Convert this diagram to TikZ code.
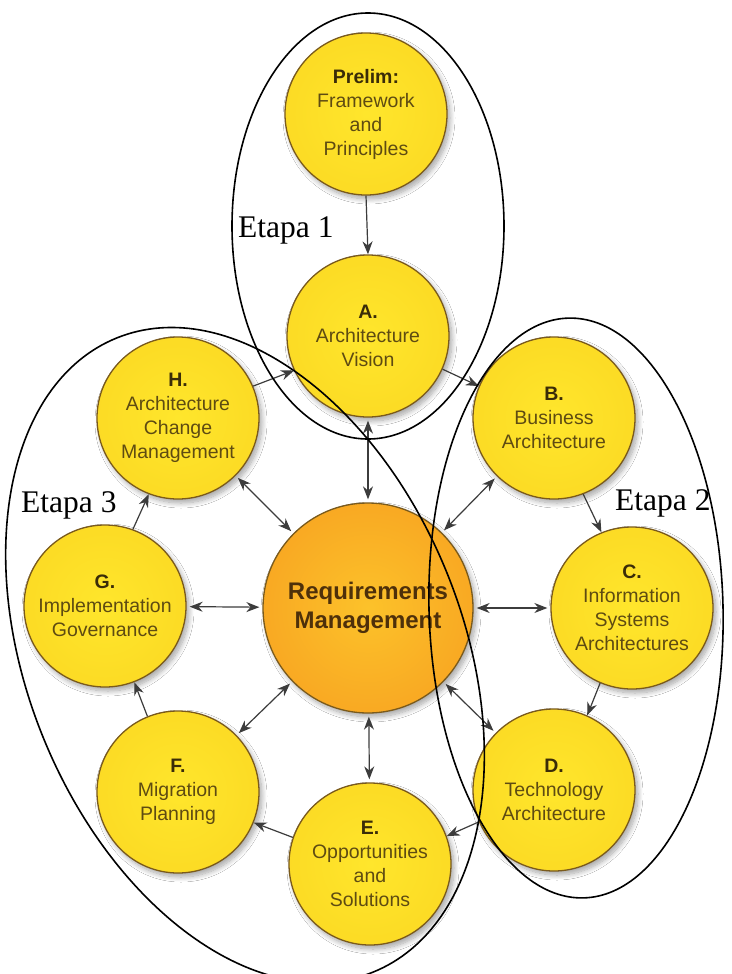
\documentclass[tikz,border=0pt]{standalone}
\usepackage{fontspec}
\setmainfont{Liberation Serif}
\newfontfamily\phasefont{Liberation Sans}
\usetikzlibrary{arrows.meta,shadows.blur}

\definecolor{ballIn}{HTML}{FFE62C}
\definecolor{ballMid}{HTML}{FBD923}
\definecolor{ballOut}{HTML}{F2BE1C}
\definecolor{ballEdge}{HTML}{7A5A1C}
\definecolor{reqIn}{HTML}{FCC22A}
\definecolor{reqMid}{HTML}{F8A622}
\definecolor{reqOut}{HTML}{F0891A}
\definecolor{bodyText}{HTML}{5E4B12}
\definecolor{headText}{HTML}{3A2C08}
\definecolor{reqText}{HTML}{4E300A}
\definecolor{arrowc}{HTML}{3C3C3C}

\pgfdeclareradialshading{yellowball}{\pgfpoint{0bp}{0bp}}{%
  color(0bp)=(ballIn); color(30bp)=(ballMid); color(50bp)=(ballOut); color(72bp)=(ballOut)}
\pgfdeclareradialshading{orangeball}{\pgfpoint{0bp}{0bp}}{%
  color(0bp)=(reqIn); color(28bp)=(reqMid); color(50bp)=(reqOut); color(72bp)=(reqOut)}

\newcommand{\phasehead}[1]{{\bfseries\color{headText}#1}}

\tikzset{
  phase/.style={circle, minimum size=162pt, inner sep=0pt, shading=yellowball,
    draw=ballEdge, line width=1.3pt, align=center, text=bodyText,
    font=\phasefont\fontsize{19.5}{24}\selectfont,
    blur shadow={shadow xshift=3pt, shadow yshift=-4pt, shadow blur radius=5pt,
      shadow opacity=35, shadow blur steps=10}},
  core/.style={circle, minimum size=210pt, inner sep=0pt, shading=orangeball,
    draw=ballEdge, line width=1.3pt, align=center, text=reqText,
    font=\phasefont\bfseries\fontsize{24}{29}\selectfont,
    blur shadow={shadow xshift=3pt, shadow yshift=-4pt, shadow blur radius=5pt,
      shadow opacity=35, shadow blur steps=10}},
  tip/.tip={Stealth[length=13pt,width=10pt]},
  flow/.style={draw=arrowc, line width=1.2pt, -tip},
  twoway/.style={draw=arrowc, line width=1.2pt, tip-tip,
    shorten >=3pt, shorten <=3pt},
  stage/.style={draw=black, line width=1.6pt},
  stagelabel/.style={anchor=base west, inner sep=0pt, font=\fontsize{31.5}{36}\selectfont}
}

\begin{document}
\begin{tikzpicture}[x=1pt, y=-1pt]
  \useasboundingbox[fill=white] (0,0) rectangle (731,974);

  % phase circles
  \node[phase] (P) at (366,114) {\phasehead{Prelim:}\\Framework\\and\\Principles};
  \node[phase] (A) at (368,336) {\phasehead{A.}\\Architecture\\Vision};
  \node[phase] (B) at (554,418) {\phasehead{B.}\\Business\\Architecture};
  \node[phase] (C) at (632,608) {\phasehead{C.}\\Information\\Systems\\Architectures};
  \node[phase] (D) at (554,790) {\phasehead{D.}\\Technology\\Architecture};
  \node[phase] (E) at (370,864) {\phasehead{E.}\\Opportunities\\and\\Solutions};
  \node[phase] (F) at (178,792) {\phasehead{F.}\\Migration\\Planning};
  \node[phase] (G) at (105,606) {\phasehead{G.}\\Implementation\\Governance};
  \node[phase] (H) at (178,418) {\phasehead{H.}\\Architecture\\Change\\Management};
  \node[core]  (R) at (368,608) {Requirements\\Management};

  % cycle of phases
  \draw[flow] (P.south) -- (A.north);
  \draw[flow] (A.-24) -- (B.157);
  \draw[flow] (B.-69) -- (C.112);
  \draw[flow] (C.247) -- (D.66);
  \draw[flow] (D.203) -- (E.20);
  \draw[flow] (E.161) -- (F.-22);
  \draw[flow] (F.112) -- (G.-69);
  \draw[flow] (G.70) -- (H.249);
  \draw[flow] (H.23) -- (A.205);

  % links with requirements management
  \foreach \p in {A,B,C,D,E,F,G,H}
    \draw[twoway] (R) -- (\p);

  % stage groupings
  \draw[stage] (368,226) ellipse [x radius=136, y radius=213];
  \draw[stage, rotate around={1.5:(576,608)}] (576,608) ellipse [x radius=147, y radius=290];
  \draw[stage, rotate around={22:(245,655)}] (245,655) ellipse [x radius=218, y radius=342];

  \node[stagelabel] (s1) at (238,237) {Etapa 1};
  \node[stagelabel] (s2) at (615,510) {Etapa 2};
  \node[stagelabel] (s3) at (21,512) {Etapa 3};
\end{tikzpicture}
\end{document}
